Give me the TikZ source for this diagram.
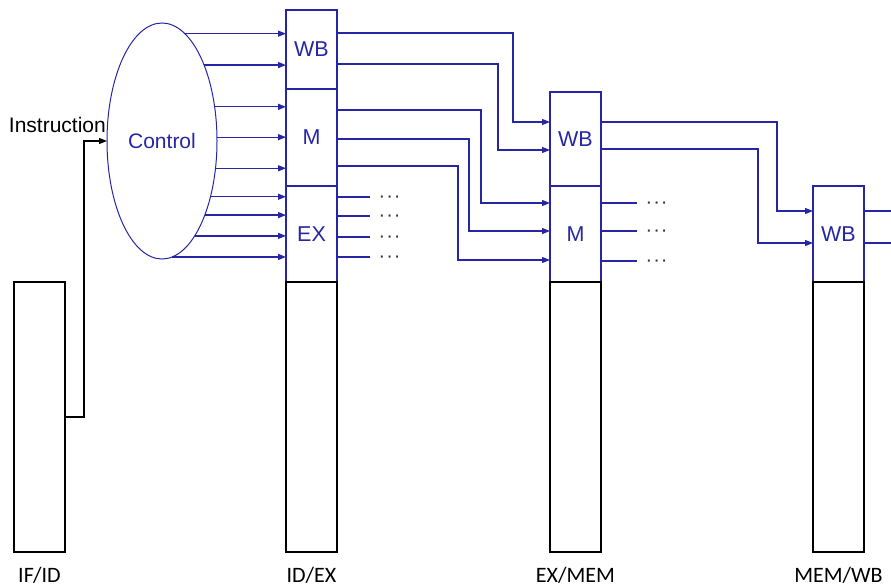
\documentclass[tikz,border=0pt]{standalone}
\usepackage{fontspec}
\setmainfont{Liberation Sans}
\newfontfamily\lblfont{Carlito}
\usetikzlibrary{shapes.geometric,arrows.meta,positioning,calc}
\definecolor{sigblue}{RGB}{38,38,165}
\tikzset{
  sig/.style={draw=sigblue, line width=1.3pt, -{Triangle[length=8pt,width=6pt]}},
  sigline/.style={draw=sigblue, line width=1.3pt},
  field/.style={draw=sigblue, line width=1.3pt, rectangle, minimum width=51pt, inner sep=0pt, outer sep=0pt, text=sigblue, font=\fontsize{21.5}{25}\selectfont},
  regbody/.style={draw=black, line width=1.3pt, rectangle, minimum width=51pt, minimum height=270pt, inner sep=0pt, outer sep=0pt},
  ctrlunit/.style={draw=sigblue, line width=1pt, ellipse, minimum width=110pt, minimum height=236pt, inner sep=0pt, outer sep=0pt, text=sigblue, font=\fontsize{21}{25}\selectfont},
  reglbl/.style={inner sep=0pt, font=\lblfont\fontsize{22}{26}\selectfont},
  dots/.style={inner sep=0pt, text=black!80, font=\fontsize{20}{24}\selectfont}
}
\begin{document}
\begin{tikzpicture}[x=1pt,y=-1pt]
    \useasboundingbox (0,0) rectangle (891,586);
    \coordinate (edge) at (891,0);

    % IF/ID register (left)
    \node[regbody] (ifid) at (39.5,417) {};

    % Control unit
    \node[ctrlunit] (ctrl) at (162,141) {Control};
    \node[inner sep=0pt, font=\fontsize{21}{25}\selectfont, anchor=base east] (instr) at ([shift={(-1,-9)}]ctrl.west) {Instruction};
    \draw[line width=1.3pt, -{Triangle[length=8pt,width=6pt]}] (ifid.east) -- ++(19,0) |- (ctrl.west);

    % ID/EX register
    \node[field, minimum height=79pt] (idexWB) at (311.5,49.5) {WB};
    \node[field, minimum height=97pt, below=0pt of idexWB] (idexM) {M};
    \node[field, minimum height=96pt, below=0pt of idexM] (idexEX) {EX};
    \node[regbody, below=0pt of idexEX] (idex) {};

    % EX/MEM register
    \node[field, minimum height=94pt] (exmemWB) at (575.5,139) {WB};
    \node[field, minimum height=96pt, below=0pt of exmemWB] (exmemM) {M};
    \node[regbody, below=0pt of exmemM] (exmem) {};

    % MEM/WB register
    \node[field, minimum height=96pt] (memwbWB) at (838.5,234) {WB};
    \node[regbody, below=0pt of memwbWB] (memwb) {};

    % control signals into ID/EX
    \foreach \a/\dst in {78.4/idexWB, 61.6/idexWB, 33.7/idexM, 4.2/idexM, -27.7/idexM,
                         -49.2/idexEX, -60.5/idexEX, -71.6/idexEX, -85/idexEX}
        \draw[sig] (ctrl.\a) -- (ctrl.\a -| \dst.west);

    % ID/EX -> EX/MEM
    \foreach \src/\ys/\xc/\yt/\dst in {idexWB/33/513/122/exmemWB, idexWB/64/498/150/exmemWB,
                                      idexM/110/481/203/exmemM, idexM/139/469/231/exmemM,
                                      idexM/166/458/260/exmemM}
        \draw[sig] (\src.east |- 0,\ys) -| (\xc,\yt) -- (\dst.west |- 0,\yt);

    % EX signals used in EX stage
    \foreach \y in {197,216,237,257}
        \draw[sigline] (idexEX.east |- 0,\y) -- ++(33,0) node[dots, right=8pt, anchor=mid west, yshift=-3pt] (exdots\y) {·\kern1pt·\kern1pt·};

    % EX/MEM -> MEM/WB
    \foreach \ys/\xc/\yt in {122/777/211, 149/758/243}
        \draw[sig] (exmemWB.east |- 0,\ys) -| (\xc,\yt) -- (memwbWB.west |- 0,\yt);

    % M signals used in MEM stage
    \foreach \y in {203,231,261}
        \draw[sigline] (exmemM.east |- 0,\y) -- ++(36,0) node[dots, right=8pt, anchor=mid west, yshift=-3pt] (memdots\y) {·\kern1pt·\kern1pt·};

    % WB signals leaving MEM/WB
    \foreach \y in {211,243}
        \draw[sigline] (memwbWB.east |- 0,\y) -- (edge |- 0,\y);

    % register names
    \node[reglbl, anchor=base] (ifidlbl) at (ifid.south |- 0,582) {IF/ID};
    \node[reglbl, anchor=base] (idexlbl) at (idex.south |- 0,582) {ID/EX};
    \node[reglbl, anchor=base] (exmemlbl) at (exmem.south |- 0,582) {EX/MEM};
    \node[reglbl, anchor=base] (memwblbl) at (memwb.south |- 0,582) {MEM/WB};
\end{tikzpicture}
\end{document}
